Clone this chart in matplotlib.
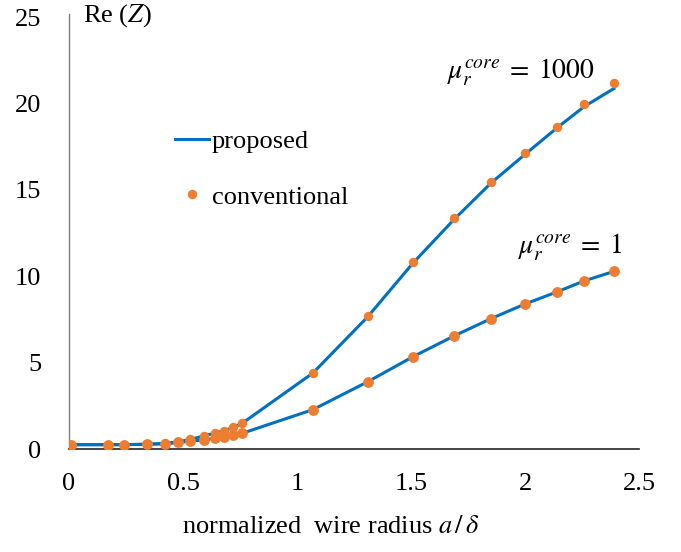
import matplotlib
matplotlib.use("Agg")
import matplotlib.pyplot as plt

plt.rcParams['font.family'] = ['Liberation Serif', 'DejaVu Serif']
plt.rcParams['mathtext.fontset'] = 'stix'
plt.rcParams['font.size'] = 19

# normalized wire radius a/delta
x = [0.01, 0.17, 0.24, 0.34, 0.42, 0.48, 0.53, 0.59, 0.64, 0.68, 0.72, 0.76,
     1.07, 1.31, 1.51, 1.69, 1.85, 2.00, 2.14, 2.26, 2.39]

# conventional (dots)
conv_1000 = [0.25, 0.25, 0.25, 0.28, 0.32, 0.42, 0.55, 0.75, 0.92, 1.05, 1.25, 1.49,
             4.42, 7.71, 10.83, 13.36, 15.45, 17.15, 18.66, 19.99, 21.17]
conv_1 = [0.25, 0.25, 0.25, 0.27, 0.30, 0.38, 0.45, 0.52, 0.62, 0.71, 0.81, 0.91,
          2.28, 3.89, 5.35, 6.55, 7.54, 8.39, 9.09, 9.73, 10.28]

# proposed (lines)
prop_1000 = [0.25, 0.25, 0.25, 0.28, 0.32, 0.42, 0.55, 0.75, 0.92, 1.05, 1.25, 1.49,
             4.40, 7.65, 10.78, 13.30, 15.38, 17.05, 18.58, 19.82, 20.86]
prop_1 = conv_1

blue = "#0070C0"
orange = "#ED7D31"

fig = plt.figure(figsize=(6.81, 5.52), dpi=100)
ax = fig.add_axes([69 / 681, 1 - 449 / 552, 570 / 681, 435 / 552])

ax.plot(x, prop_1000, color=blue, lw=2.2, label="proposed", zorder=2)
ax.plot(x, prop_1, color=blue, lw=2.2, zorder=2)
ax.plot(x, conv_1000, "o", color=orange, ms=6.8, mec="none", label="conventional", zorder=3)
ax.plot(x, conv_1, "o", color=orange, ms=7.8, mec="none", zorder=3)

ax.set_xlim(0, 2.5)
ax.set_ylim(0, 435 / 17.28)
ax.set_xticks([0, 0.5, 1, 1.5, 2, 2.5])
ax.set_xticklabels(["0", "0.5", "1", "1.5", "2", "2.5"])
ax.set_yticks([0, 5, 10, 15, 20, 25])
ax.tick_params(axis="x", length=0, pad=17)
ax.tick_params(axis="y", length=0, pad=20)

for s in ["top", "right"]:
    ax.spines[s].set_visible(False)
ax.spines["left"].set_color("#7f7f7f")
ax.spines["left"].set_linewidth(1.0)
ax.spines["bottom"].set_color("#262626")
ax.spines["bottom"].set_linewidth(1.2)
ax.spines["left"].set_zorder(1)

ax.set_xlabel(r"normalized  wire radius $a\,/\,\delta$")
ax.xaxis.set_label_coords((331 - 69) / 570, (449 - 527) / 435)
ax.xaxis.label.set_va("center")

fig.text(83 / 681, 1 - 16 / 552, r"Re ($Z$)", ha="left", va="center")
fig.text(447 / 681, 1 - 72 / 552, r"$\mu_r^{core}\;=\;1000$", ha="left", va="center", fontsize=20)
fig.text(518 / 681, 1 - 247 / 552, r"$\mu_r^{core}\;=\;1$", ha="left", va="center", fontsize=20)

ax.legend(loc="upper left", bbox_to_anchor=(175 / 681, 1 - 130 / 552),
          bbox_transform=fig.transFigure, frameon=False, borderpad=0,
          borderaxespad=0, handletextpad=0.1, handlelength=1.3,
          labelspacing=1.2, numpoints=1)

fig.savefig("out.png", dpi=100)
